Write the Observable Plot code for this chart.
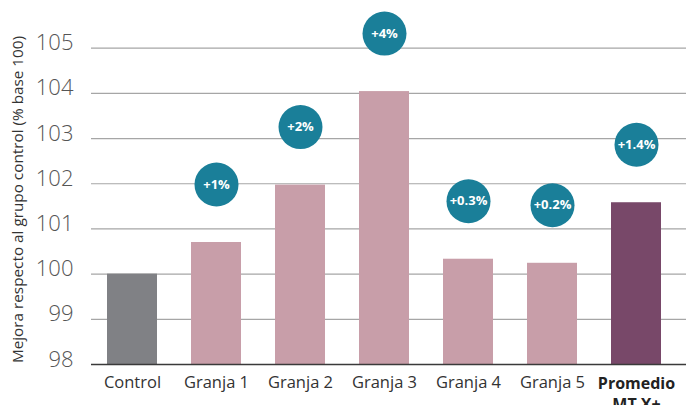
<!DOCTYPE html>
<html>
<head>
<meta charset="utf-8">
<script src="https://cdn.jsdelivr.net/npm/d3@7"></script>
<script src="https://cdn.jsdelivr.net/npm/@observablehq/plot@0.6"></script>
<style>
  html, body { margin: 0; padding: 0; background: #fff; }
  #chart { width: 686px; height: 405px; }
</style>
</head>
<body>
<div id="chart"></div>
<script>
const categories = ["Control", "Granja 1", "Granja 2", "Granja 3", "Granja 4", "Granja 5", "Promedio\nMT X+"];
const values = [100.0, 100.7, 101.97, 104.04, 100.33, 100.24, 101.58];
const badges = ["", "+1%", "+2%", "+4%", "+0.3%", "+0.2%", "+1.4%"];
const groups = ["control", "granja", "granja", "granja", "granja", "granja", "promedio"];
const yTicks = [98, 99, 100, 101, 102, 103, 104, 105];
const yLabel = "Mejora respecto al grupo control (% base 100)";

const data = categories.map((c, i) => ({category: c, value: values[i], badge: badges[i], group: groups[i]}));
const colors = {control: "#808185", granja: "#c89ea9", promedio: "#784869"};

const chart = Plot.plot({
  width: 686,
  height: 405,
  marginLeft: 91,
  marginRight: 0,
  marginTop: 34,
  marginBottom: 41,
  style: {fontFamily: "'Open Sans', sans-serif", background: "#fff"},
  x: {domain: categories, range: [88, 680], paddingInner: 0.4, paddingOuter: 0.2, axis: null},
  y: {domain: [98, 105], range: [364, 47.7], axis: null},
  marks: [
    Plot.ruleY(yTicks.filter(d => d > 98), {stroke: "#a6a6a6", strokeWidth: 1.2}),
    Plot.barY(data, {x: "category", y1: 98, y2: "value", fill: d => colors[d.group]}),
    Plot.ruleY([98], {stroke: "#3a3a3a", strokeWidth: 1.6}),
    Plot.dot(data.filter(d => d.badge), {x: "category", y: "value", r: 22, fill: "#1a7f99", dy: -58}),
    Plot.text(data.filter(d => d.badge), {x: "category", y: "value", text: "badge", dy: -58, fill: "#fff", fontSize: 13, fontWeight: "bold"}),
    Plot.text(yTicks, {y: d => d, text: d => String(d), frameAnchor: "left", textAnchor: "end", dx: -18, dy: -5, fontSize: 22, fill: "#555", fontWeight: 300}),
    Plot.text([yLabel], {text: d => d, frameAnchor: "left", textAnchor: "middle", rotate: -90, dx: -73, fontSize: 15.3, fill: "#333"}),
    Plot.text(categories.slice(0, 6), {x: d => d, text: d => d, frameAnchor: "bottom", dy: 23, fontSize: 16.5, fill: "#333"}),
    Plot.text(categories.slice(6), {x: d => d, text: d => d, frameAnchor: "bottom", lineAnchor: "top", dy: 10, fontSize: 16, fontWeight: "bold", lineHeight: 1.3, fill: "#222"})
  ]
});
document.getElementById("chart").appendChild(chart);
</script>
</body>
</html>
